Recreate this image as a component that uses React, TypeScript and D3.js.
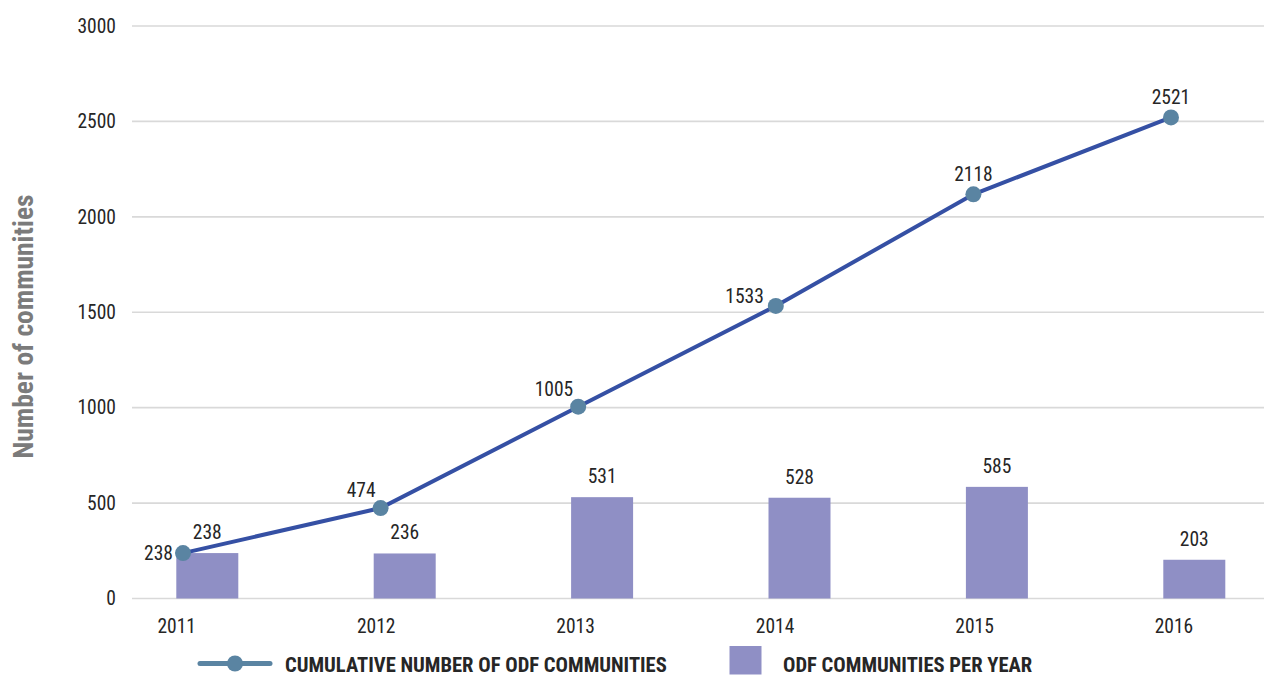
import React from "react";
import * as d3 from "d3";

const years = ["2011", "2012", "2013", "2014", "2015", "2016"];
const perYear = [238, 236, 531, 528, 585, 203];
const cumulative = [238, 474, 1005, 1533, 2118, 2521];
const yTicks = [0, 500, 1000, 1500, 2000, 2500, 3000];
const lineLabelPlacement = ["left", "aboveLeft", "aboveLeft", "leftHigh", "above", "above"];
const seriesNames = ["CUMULATIVE NUMBER OF ODF COMMUNITIES", "ODF COMMUNITIES PER YEAR"];
const yTitle = "Number of communities";

const W = 1264;
const H = 675;
const FONT = "'Liberation Sans Narrow', 'Roboto Condensed', 'DejaVu Sans Condensed', sans-serif";
const BAR = "#8f8fc5";
const LINE = "#3550a4";
const DOT = "#5a84a2";
const GRID = "#d9d9d9";
const TXT = "#262626";

export default function App() {
  const y = d3.scaleLinear().domain([0, 3000]).range([598.5, 26]);
  const xLabel = d3.scalePoint<string>().domain(years).range([176.7, 1174]);
  const xBar = d3.scalePoint<string>().domain(years).range([176.3, 1163.3]);
  const xDot = d3.scalePoint<string>().domain(years).range([183, 1171]);
  const barW = 62;
  const lineGen = d3
    .line<number>()
    .x((_, i) => xDot(years[i]) as number)
    .y((d) => y(d));

  return (
    <svg
      width={W}
      height={H}
      style={{ position: "absolute", left: 0, top: 0, background: "#fff" }}
      fontFamily={FONT}
    >
      {/* gridlines + y tick labels */}
      {yTicks.map((t) => (
        <g key={t}>
          <line x1={132} x2={W} y1={y(t)} y2={y(t)} stroke={GRID} strokeWidth={1.6} />
          <text x={116} y={y(t)} dy="0.35em" textAnchor="end" fontSize={19.5} fill={TXT}>
            {t}
          </text>
        </g>
      ))}

      {/* y axis title */}
      <text
        transform={`translate(33,${326.5}) rotate(-90)`}
        textAnchor="middle"
        fontSize={27.5}
        fontWeight="bold"
        fill="#7b7b7b"
      >
        {yTitle}
      </text>

      {/* bars */}
      {perYear.map((v, i) => (
        <g key={years[i]}>
          <rect x={xBar(years[i])} y={y(v)} width={barW} height={y(0) - y(v)} fill={BAR} />
          <text
            x={(xBar(years[i]) as number) + barW / 2}
            y={y(v) - 14}
            textAnchor="middle"
            fontSize={19.5}
            fill={TXT}
          >
            {v}
          </text>
        </g>
      ))}

      {/* x labels */}
      {years.map((yr) => (
        <text key={yr} x={xLabel(yr)} y={632.5} textAnchor="middle" fontSize={19.5} fill={TXT}>
          {yr}
        </text>
      ))}

      {/* cumulative line */}
      <path d={lineGen(cumulative) || ""} fill="none" stroke={LINE} strokeWidth={4} />
      {cumulative.map((v, i) => {
        const cx = xDot(years[i]) as number;
        const cy = y(v);
        const p = lineLabelPlacement[i];
        let tx = cx;
        let ty = cy - 13;
        let anchor = "middle";
        if (p === "left") {
          tx = cx - 10;
          ty = cy + 7;
          anchor = "end";
        } else if (p === "aboveLeft") {
          tx = cx - 5;
          ty = cy - 11;
          anchor = "end";
        } else if (p === "leftHigh") {
          tx = cx - 12;
          ty = cy - 3;
          anchor = "end";
        }
        return (
          <g key={"c" + i}>
            <circle cx={cx} cy={cy} r={8} fill={DOT} />
            <text x={tx} y={ty} textAnchor={anchor} fontSize={19.5} fill={TXT}>
              {v}
            </text>
          </g>
        );
      })}

      {/* legend */}
      <line x1={200} x2={270} y1={663.5} y2={663.5} stroke={DOT} strokeWidth={5} strokeLinecap="round" />
      <circle cx={235} cy={663.5} r={8} fill={DOT} />
      <text x={285} y={671.5} fontSize={20.6} fontWeight="bold" fill={TXT}>
        {seriesNames[0]}
      </text>
      <rect x={729.5} y={646} width={32} height={28.5} fill={BAR} />
      <text x={783} y={671.5} fontSize={20.6} fontWeight="bold" fill={TXT}>
        {seriesNames[1]}
      </text>
    </svg>
  );
}
